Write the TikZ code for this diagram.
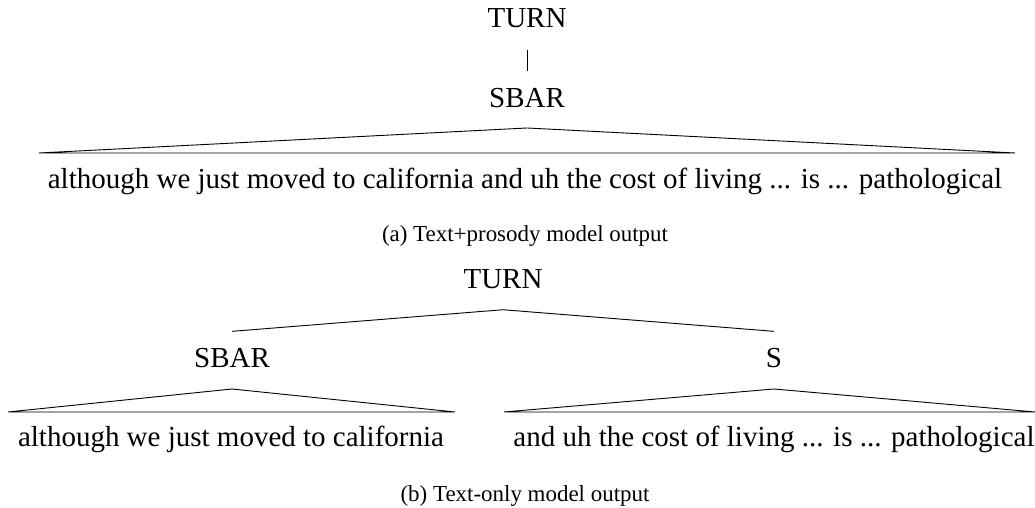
\documentclass[tikz,border=0pt]{standalone}
\usepackage{fontspec}
\setmainfont{Liberation Serif}
\newfontfamily\treefont{Liberation Serif}
\usetikzlibrary{calc}

\begin{document}
\begin{tikzpicture}[x=0.3966pt, y=0.3966pt, line width=0.36pt,
    every node/.style={inner sep=0pt, anchor=base},
    treelabel/.style={font=\treefont\fontsize{11.5}{14}\selectfont},
    subcap/.style={font=\treefont\fontsize{9.1}{11}\selectfont}]
    \useasboundingbox (0,0) rectangle (1035,508);

    % (a) Text+prosody
    \node[treelabel] (turnA) at (527, 480) {TURN};
    \node[treelabel] (sbarA) at (527, 400) {SBAR};
    \coordinate (stemTopA) at ($(turnA.south)+(0,-21)$);
    \coordinate (stemBotA) at ($(sbarA.north)+(0,17)$);
    \draw (stemTopA) -- (stemBotA);
    \coordinate (topA) at ($(sbarA.base)+(0,-20)$);
    \coordinate (leftA) at (39, 355);
    \coordinate (rightA) at (1015, 355);
    \draw (leftA) -- (topA) -- (rightA) -- cycle; % Triangle
    \node[treelabel] (wordsA) at (525, 319) {although we just moved to california and uh the cost of living ... is ... pathological};
    \node[subcap] (capA) at (525, 266) {(a) Text+prosody model output};

    % (b) Text-only
    \node[treelabel] (turnB) at (503, 219) {TURN};
    \node[treelabel] (sbarB) at (232, 140) {SBAR};
    \node[treelabel] (sB) at (774, 140) {S};
    \coordinate (topB) at ($(turnB.south)+(0,-20)$);
    \coordinate (endSbarB) at ($(sbarB.north)+(0,17)$);
    \coordinate (endSB) at ($(sB.north)+(0,17)$);
    \draw (endSbarB) -- (topB) -- (endSB);

    % Triangles under SBAR and S
    \coordinate (topSbarB) at ($(sbarB.base)+(0,-21)$);
    \coordinate (leftSbarB) at (8, 96);
    \coordinate (rightSbarB) at (455, 96);
    \draw (leftSbarB) -- (topSbarB) -- (rightSbarB) -- cycle;
    \coordinate (topSB) at ($(sB.base)+(0,-21)$);
    \coordinate (leftSB) at (504, 96);
    \coordinate (rightSB) at (1035, 96);
    \draw (leftSB) -- (topSB) -- (rightSB) -- cycle;

    \node[treelabel] (wordsSbarB) at (231, 61) {although we just moved to california};
    \node[treelabel] (wordsSB) at (774, 61) {and uh the cost of living ... is ... pathological};
    \node[subcap] (capB) at (525, 6) {(b) Text-only model output};
\end{tikzpicture}
\end{document}
